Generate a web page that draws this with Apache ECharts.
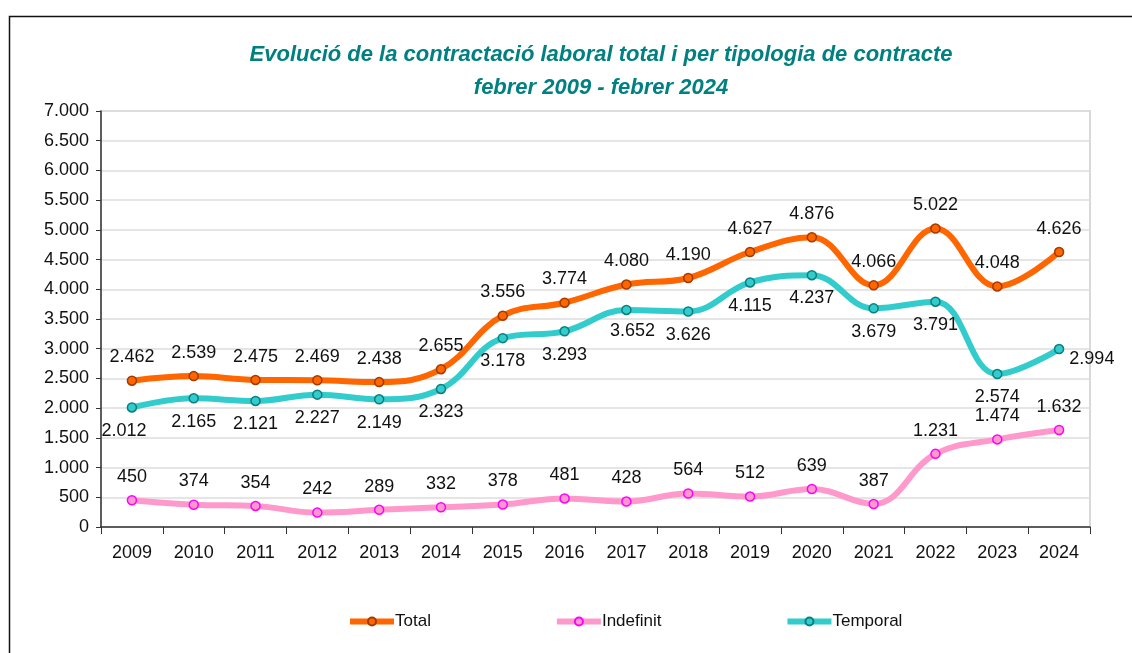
<!DOCTYPE html>
<html>
<head>
<meta charset="utf-8">
<script src="https://cdn.jsdelivr.net/npm/echarts@6/dist/echarts.min.js"></script>
<style>
  html, body { margin: 0; padding: 0; background: #fff; }
  #chart { width: 1132px; height: 653px; }
</style>
</head>
<body>
<div id="chart"></div>
<script>
// dades
const years = ['2009', '2010', '2011', '2012', '2013', '2014', '2015', '2016',
  '2017', '2018', '2019', '2020', '2021', '2022', '2023', '2024'];
const total = [2462, 2539, 2475, 2469, 2438, 2655, 3556, 3774, 4080, 4190, 4627, 4876, 4066, 5022, 4048, 4626];
const indefinit = [450, 374, 354, 242, 289, 332, 378, 481, 428, 564, 512, 639, 387, 1231, 1474, 1632];
const temporal = [2012, 2165, 2121, 2227, 2149, 2323, 3178, 3293, 3652, 3626, 4115, 4237, 3679, 3791, 2574, 2994];

// format 2.462
function fmt(v) {
  return String(v).replace(/\B(?=(\d{3})+(?!\d))/g, '.');
}

const font = 'Liberation Sans, Arial, sans-serif';

function lineSeries(name, data, color, border, labelPos) {
  return {
    name: name,
    type: 'line',
    smooth: 0.4,
    data: data,
    symbol: 'circle',
    symbolSize: 9,
    lineStyle: { color: color, width: 6 },
    itemStyle: { color: color, borderColor: border, borderWidth: 1.5 },
    label: {
      show: true,
      position: labelPos,
      distance: 9,
      fontFamily: font,
      fontSize: 18,
      color: '#111',
      formatter: function (p) { return fmt(p.value); }
    }
  };
}

const myChart = echarts.init(document.getElementById('chart'));

const temporalSeries = lineSeries('Temporal', temporal, '#33CCCC', '#0a7f7f', 'bottom');
// algunes etiquetes desplaçades com a l'original
temporalSeries.data = temporal.map(function (v, i) {
  if (i === 0) return { value: v, label: { offset: [-8, 0] } };
  if (i === 8) return { value: v, label: { offset: [6, -2] } };
  if (i === 15) return { value: v, label: { position: 'right', offset: [-4, 10] } };
  return v;
});

const option = {
  animation: false,
  backgroundColor: '#fff',
  title: {
    text: 'Evolució de la contractació laboral total i per tipologia de contracte\nfebrer 2009 - febrer 2024',
    left: 596,
    top: 33,
    textAlign: 'center',
    textStyle: {
      fontFamily: font,
      fontSize: 22,
      fontWeight: 'bold',
      fontStyle: 'italic',
      color: '#008080',
      lineHeight: 33
    }
  },
  legend: {
    bottom: 18,
    left: 342,
    itemGap: 123,
    itemWidth: 44,
    itemHeight: 10,
    lineStyle: { width: 6 },
    textStyle: { fontFamily: font, fontSize: 17, color: '#111', padding: [0, 0, 0, -4] },
    data: ['Total', 'Indefinit', 'Temporal']
  },
  grid: {
    left: 101,
    right: 42,
    top: 111,
    bottom: 126,
    show: true,
    borderColor: '#d9d9d9',
    borderWidth: 2
  },
  xAxis: {
    type: 'category',
    data: years,
    boundaryGap: true,
    axisLine: { lineStyle: { color: '#333', width: 1.5 } },
    axisTick: { show: true, alignWithLabel: false, length: 7, lineStyle: { color: '#333' } },
    axisLabel: { fontFamily: font, fontSize: 18, color: '#111', margin: 17 }
  },
  yAxis: {
    type: 'value',
    min: 0,
    max: 7000,
    interval: 500,
    axisLine: { show: true, lineStyle: { color: '#333', width: 1.5 } },
    axisTick: { show: true, length: 5, lineStyle: { color: '#333' } },
    axisLabel: { fontFamily: font, fontSize: 18, color: '#111', margin: 12, formatter: fmt },
    splitLine: { lineStyle: { color: '#dcdcdc', width: 1.5 } }
  },
  graphic: [{
    type: 'rect',
    left: 7,
    top: 14,
    shape: { width: 1200, height: 700 },
    style: { fill: 'none', stroke: '#111', lineWidth: 1.5 },
    silent: true
  }],
  series: [
    lineSeries('Total', total, '#FF6600', '#a33a00', 'top'),
    lineSeries('Indefinit', indefinit, '#FF99CC', '#FF00FF', 'top'),
    temporalSeries
  ]
};

myChart.setOption(option);
</script>
</body>
</html>
